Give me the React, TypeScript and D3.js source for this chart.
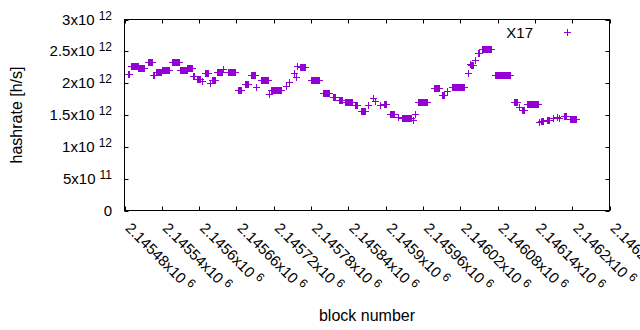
import * as React from "react";
import * as d3 from "d3";

// runs of equal hashrate, block offsets from 2145480, values in 1e12 h/s
const runStart = [5, 11, 22, 37, 46, 50, 61, 77, 90, 101, 110, 117, 124, 130, 137, 140, 149, 159, 167, 182, 193, 204, 212, 219, 233, 236, 259, 265, 272, 276, 278, 283, 300, 320, 336, 345, 355, 370, 381, 392, 399, 403, 411, 418, 427, 440, 447, 464, 467, 472, 497, 511, 519, 527, 552, 555, 558, 564, 569, 575, 596, 627, 635, 640, 648, 666, 670, 680, 689, 696, 699, 707, 717];
const runEnd = [8, 21, 32, 45, 47, 58, 72, 87, 100, 109, 112, 122, 124, 135, 137, 145, 157, 159, 177, 188, 198, 210, 212, 230, 233, 251, 259, 265, 272, 276, 278, 291, 313, 329, 339, 349, 366, 374, 387, 392, 399, 403, 411, 421, 434, 440, 461, 464, 467, 487, 506, 514, 519, 546, 552, 555, 561, 564, 570, 590, 620, 632, 635, 643, 665, 666, 673, 683, 689, 696, 699, 710, 726];
const runValue = [2.15, 2.265, 2.245, 2.33, 2.13, 2.17, 2.21, 2.33, 2.21, 2.245, 2.12, 2.06, 2.03, 2.155, 2.0, 2.05, 2.17, 2.23, 2.175, 1.89, 1.98, 2.13, 1.94, 2.05, 1.83, 1.9, 1.96, 2.02, 2.16, 2.1, 2.27, 2.25, 2.05, 1.85, 1.79, 1.74, 1.71, 1.66, 1.555, 1.66, 1.76, 1.72, 1.66, 1.68, 1.52, 1.47, 1.46, 1.42, 1.52, 1.7, 1.92, 1.81, 1.87, 1.945, 2.155, 2.3, 2.285, 2.37, 2.48, 2.53, 2.13, 1.7, 1.62, 1.58, 1.665, 1.39, 1.4, 1.42, 1.45, 1.47, 1.45, 1.48, 1.43];
const baseBlock = 2145480;

const xTicks = [2145480, 2145540, 2145600, 2145660, 2145720, 2145780, 2145840, 2145900, 2145960, 2146020, 2146080, 2146140, 2146200, 2146260];
const xTickLabels = ["2.14548", "2.14554", "2.1456", "2.14566", "2.14572", "2.14578", "2.14584", "2.1459", "2.14596", "2.14602", "2.14608", "2.14614", "2.1462", "2.14626"];
const yTicks = [0, 5e11, 1e12, 1.5e12, 2e12, 2.5e12, 3e12];
const yTickMant = ["0", "5", "1", "1.5", "2", "2.5", "3"];
const yTickExp = ["", "11", "12", "12", "12", "12", "12"];

const COLOR = "#9400d3";
const FONT = "'Liberation Sans', Arial, sans-serif";

const W = 640, H = 330;
const left = 124.5, right = 609.5, top = 19.5, bottom = 210.5;

export default function App() {
  const x = d3.scaleLinear().domain([2145480, 2146260]).range([left, right]);
  const y = d3.scaleLinear().domain([0, 3e12]).range([bottom, top]);

  // one point per block inside each run
  const points: { b: number; v: number }[] = [];
  runStart.forEach((s, i) => {
    for (let k = s; k <= runEnd[i]; k++) points.push({ b: baseBlock + k, v: runValue[i] * 1e12 });
  });

  const plus = (cx: number, cy: number) => {
    const px = Math.round(cx) + 0.5, py = Math.round(cy) + 0.5;
    return `M${px - 3.5},${py}h7M${px},${py - 3.5}v7`;
  };
  const tick = 4;

  return (
    <svg width={W} height={H} style={{ display: "block", position: "absolute", left: 0, top: 0, background: "#fff" }}>
      <rect width={W} height={H} fill="#fff" />
      <g fill="none" stroke={COLOR} strokeWidth={1}>
        <path d={points.map(p => plus(x(p.b), y(p.v))).join("")} />
      </g>
      {/* axes and border */}
      <g stroke="#000" strokeWidth={1} fill="none">
        {yTicks.map((t, i) => {
          const yy = Math.round(y(t)) + 0.5;
          return <path key={i} d={`M${left},${yy}h${tick}M${right},${yy}h${-tick}`} />;
        })}
        {xTicks.map((t, i) => {
          const xx = Math.round(x(t)) + 0.5;
          return <path key={i} d={`M${xx},${bottom}v${-tick}M${xx},${top}v${tick}`} />;
        })}
        <rect x={left} y={top} width={right - left} height={bottom - top} />
      </g>
      <g fontFamily={FONT} fontSize={15} fill="#000">
        {yTicks.map((t, i) => (
          <text key={i} x={112} y={y(t) + 5} textAnchor="end">
            {yTickMant[i]}
            {yTickExp[i] && <tspan>x10</tspan>}
            {yTickExp[i] && <tspan dx={4} dy={-5} fontSize={12}>{yTickExp[i]}</tspan>}
          </text>
        ))}
        {xTicks.map((t, i) => (
          <text key={i} transform={`translate(${x(t)},229) rotate(45)`}>
            {xTickLabels[i]}x10
            <tspan dx={4} dy={-5} fontSize={12}>6</tspan>
          </text>
        ))}
      </g>
      <g fontFamily={FONT} fontSize={16} fill="#000">
        <text transform={`translate(22,${(top + bottom) / 2}) rotate(-90)`} textAnchor="middle">hashrate [h/s]</text>
        <text x={(left + right) / 2} y={321} textAnchor="middle">block number</text>
        <text x={533} y={37.5} textAnchor="end" fontSize={15}>X17</text>
      </g>
      <path d={plus(567, 32)} stroke={COLOR} strokeWidth={1} fill="none" />
    </svg>
  );
}
